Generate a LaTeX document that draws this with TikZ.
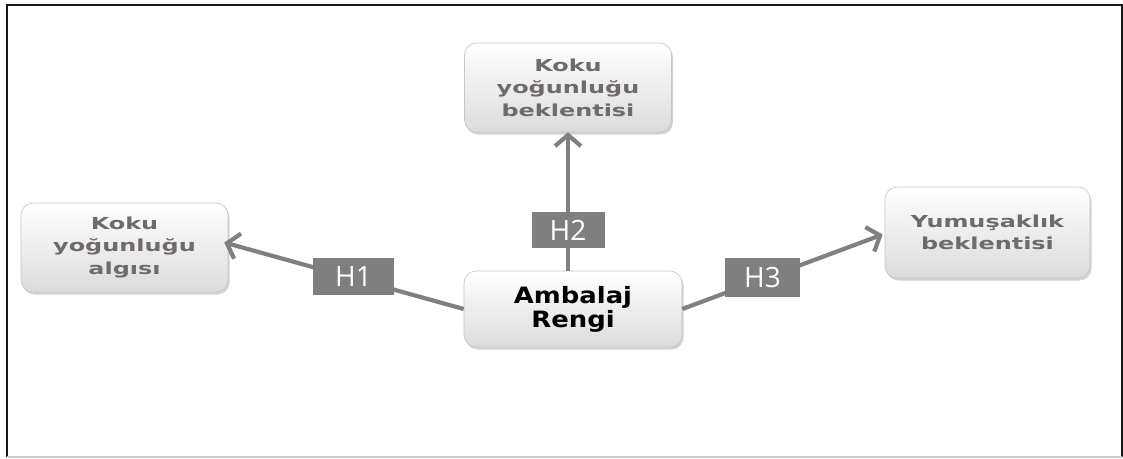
\documentclass[tikz,border=0pt]{standalone}
\usepackage{fontspec}
\usetikzlibrary{arrows.meta,shadows,calc}
\newfontfamily\grayfont{DejaVu Sans}[FakeStretch=1.45]
\newfontfamily\centfont{DejaVu Sans}[FakeStretch=1.15]
\newfontfamily\hfont{Open Sans}
\definecolor{txtgray}{RGB}{112,106,106}
\definecolor{arrgray}{RGB}{128,128,128}
\definecolor{labgray}{RGB}{127,127,127}
\tikzset{
  box/.style={rounded corners=12pt, draw=gray!45, line width=0.6pt,
    top color=white, bottom color=gray!28,
    drop shadow={shadow xshift=1.5pt, shadow yshift=-2.5pt, opacity=0.35},
    minimum width=207pt, minimum height=89pt, align=center, inner sep=0pt},
  graytext/.style={font=\grayfont\bfseries\fontsize{16.5}{22.5}\selectfont, text=txtgray},
  centtext/.style={font=\centfont\bfseries\fontsize{22.5}{24}\selectfont, text=black},
  arr/.style={draw=arrgray, line width=4.2pt, -{Straight Barb[length=11pt,width=26pt]}},
  hl/.style={fill=labgray, text=white, font=\hfont\fontsize{28}{28}\selectfont,
    minimum width=78pt, minimum height=37pt, inner sep=0pt},
}
\begin{document}
\begin{tikzpicture}[x=1pt,y=-1pt]
\useasboundingbox (0,0) rectangle (1123,458);
% frame
\draw[line width=2pt, color=black!90] (7,457) -- (7,4.5) -- (1122,4.5) -- (1122,457);
\draw[line width=1.5pt, color=gray!40] (7,457) -- (1122,457);
% nodes
\node[box, graytext] (t) at (568,87.5) {Koku\\yoğunluğu\\beklentisi};
\node[box, graytext] (l) at (124.5,247.5) {Koku\\yoğunluğu\\algısı};
\node[box, graytext, minimum width=205pt, minimum height=91pt] (r) at (987.5,232.5) {Yumuşaklık\\beklentisi};
\node[box, centtext, minimum width=218pt, minimum height=76pt] (c) at (573,309) {Ambalaj\\Rengi};
% connectors
\draw[arr] (c.west) -- ($(l.east)+(-4,-5)$) node[hl, pos=0.46, yshift=2pt, minimum width=81pt] (h1) {H1};
\draw[arr] (c.north -| t.south) -- (t.south) node[hl, pos=0.295, minimum width=73pt, minimum height=36pt] (h2) {H2};
\draw[arr] (c.east) -- ($(r.west)+(-2,2)$) node[hl, pos=0.40, yshift=2pt, minimum width=75pt, minimum height=39pt] (h3) {H3};
\end{tikzpicture}
\end{document}
